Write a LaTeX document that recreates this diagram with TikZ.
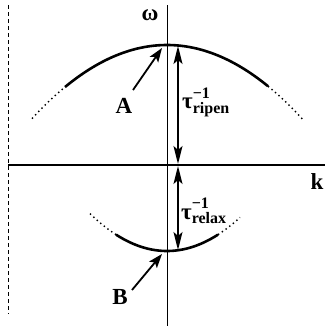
\documentclass[tikz,border=0pt]{standalone}
\usepackage{fontspec}
\setmainfont{Liberation Serif}
\usetikzlibrary{arrows.meta}
\tikzset{
  axis/.style={line width=0.9pt},
  curvesolid/.style={line width=2.6pt},
  curvedot/.style={line width=1.4pt, dash pattern=on 1.4pt off 3.2pt},
  pointer/.style={line width=1.8pt, -{Stealth[length=14pt,width=10pt,inset=3pt]}},
  dbl/.style={line width=2pt, {Stealth[length=18pt,width=9pt,inset=4pt]}-{Stealth[length=18pt,width=9pt,inset=4pt]}},
  lbl/.style={font=\fontsize{23}{23}\selectfont\bfseries, inner sep=0pt},
}
\newcommand{\taulab}[1]{τ\rlap{\raisebox{1.0ex}{\fontsize{16}{16}\selectfont −1}}\raisebox{-0.42ex}{\fontsize{16}{16}\selectfont #1}}
\begin{document}
\begin{tikzpicture}[x=1pt,y=-1pt]
\useasboundingbox (0,0) rectangle (325,330);
% frame and axes
\coordinate (dtop) at (8,5);
\coordinate (dbot) at (8,314);
\draw[line width=1pt, dash pattern=on 4pt off 3pt] (dtop) -- (dbot);
\coordinate (hl) at (8,165);
\coordinate (hr) at (325,165);
\draw[axis, line width=1.2pt] (hl) -- (hr);
\coordinate (vt) at (167,5);
\coordinate (vb) at (167,326);
\draw[axis] (vt) -- (vb);
\node[lbl] (omega) at (150,15) {ω};
\node[lbl] (k) at (317,182) {k};
% upper branch
\draw[curvesolid] plot[domain=65:268, samples=80] (\x,{45+0.404*((\x-167)/10)^2});
\draw[curvedot] plot[domain=32:65, samples=20] (\x,{45+0.404*((\x-167)/10)^2});
\draw[curvedot] plot[domain=268:303, samples=20] (\x,{45+0.404*((\x-167)/10)^2});
% lower branch
\draw[curvesolid] plot[domain=116:218, samples=60] (\x,{251-0.63*((\x-167)/10)^2});
\draw[curvedot] plot[domain=90:116, samples=15] (\x,{251-0.63*((\x-167)/10)^2});
\draw[curvedot] plot[domain=218:240, samples=15] (\x,{251-0.63*((\x-167)/10)^2});
% arrows
\coordinate (rt) at (178,46);
\coordinate (rb) at (178,164);
\draw[dbl] (rt) -- (rb);
\coordinate (lt) at (178,166);
\coordinate (lb) at (178,250);
\draw[dbl] (lt) -- (lb);
\node[lbl, anchor=west] (ripen) at (182,102) {\taulab{ripen}};
\node[lbl, anchor=west] (relax) at (181,211) {\taulab{relax}};
% pointers
\node[lbl] (A) at (124,106) {A};
\coordinate (Atail) at (133,90);
\coordinate (Ahead) at (162,48);
\draw[pointer] (Atail) -- (Ahead);
\node[lbl] (B) at (120,297) {B};
\coordinate (Btail) at (132,290);
\coordinate (Bhead) at (162,254);
\draw[pointer] (Btail) -- (Bhead);
\end{tikzpicture}
\end{document}
